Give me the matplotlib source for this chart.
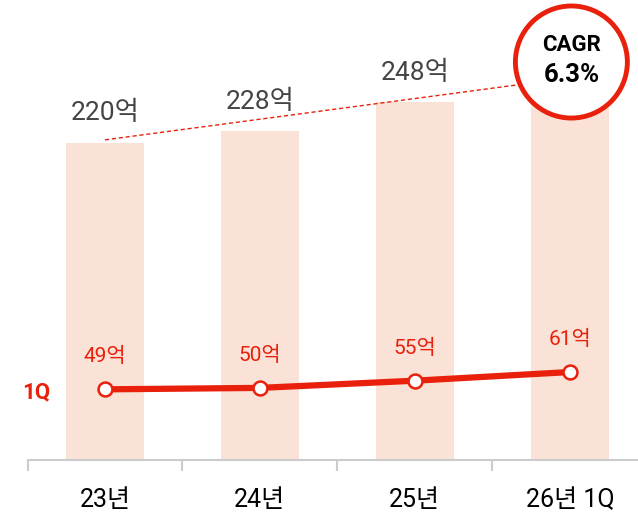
import matplotlib
matplotlib.use('Agg')
import matplotlib.pyplot as plt
from matplotlib.patches import Ellipse

plt.rcParams['font.family'] = ['Roboto', 'Noto Sans CJK KR', 'DejaVu Sans']

categories = ['23년', '24년', '25년', '26년 1Q']
annual = [220, 228, 248, 263]
annual_labels = ['220억', '228억', '248억', '']
q1 = [49, 50, 55, 61]
q1_labels = ['49억', '50억', '55억', '61억']

red = '#e8200c'
peach = '#fbe2d6'

fig = plt.figure(figsize=(6.38, 5.13), dpi=100)
ax = fig.add_axes([27.5 / 638, 53 / 513, 610.5 / 638, 460 / 513])
x = list(range(len(categories)))

ax.bar(x, annual, width=0.5, color=peach, zorder=1)
for xi, v, lab in zip(x, annual, annual_labels):
    if lab:
        ax.text(xi, v + 12, lab, ha='center', va='bottom', fontsize=19, color='#444444')

# dashed trend line from first bar to last
ax.plot([x[0], x[-1]], [annual[0] + 2, annual[-1] + 2], ls=(0, (3, 2)), color=red, lw=1, zorder=2)

# 1Q line
ax.plot(x, q1, color=red, lw=4.5, zorder=3, solid_capstyle='round')
ax.plot(x, q1, ls='none', marker='o', markersize=10, markerfacecolor='white',
        markeredgecolor=red, markeredgewidth=1.8, zorder=4)
for xi, v, lab in zip(x, q1, q1_labels):
    ax.text(xi, v + 16, lab, ha='center', va='bottom', fontsize=15, color=red)
ax.text(-0.445, q1[0] - 2, '1Q', ha='center', va='center', fontsize=16, color=red,
        fontweight='bold', clip_on=False)

ax.set_xlim(-0.5, 3.44)
ax.set_ylim(0, 319)

# CAGR badge
ax.add_patch(Ellipse((3.01, 276), width=112 / 155, height=112 / 1.441, facecolor='white',
                     edgecolor=red, lw=3.5, zorder=5, clip_on=False))
ax.text(3.01, 287.5, 'CAGR', ha='center', va='center', fontsize=16, fontweight='bold', zorder=6)
ax.text(3.01, 267, '6.3%', ha='center', va='center', fontsize=18.5, fontweight='bold', zorder=6)

for s in ['top', 'right', 'left']:
    ax.spines[s].set_visible(False)
ax.spines['bottom'].set_color('#cccccc')
ax.spines['bottom'].set_linewidth(1.5)
ax.set_yticks([])
ax.set_xticks(x)
ax.set_xticklabels(categories, fontsize=18)
ax.tick_params(axis='x', which='major', length=0, pad=20)
ax.set_xticks([-0.5, 0.5, 1.5, 2.5], minor=True)
ax.tick_params(axis='x', which='minor', length=8, width=1.5, color='#cccccc')

fig.savefig('out.png', dpi=100)
